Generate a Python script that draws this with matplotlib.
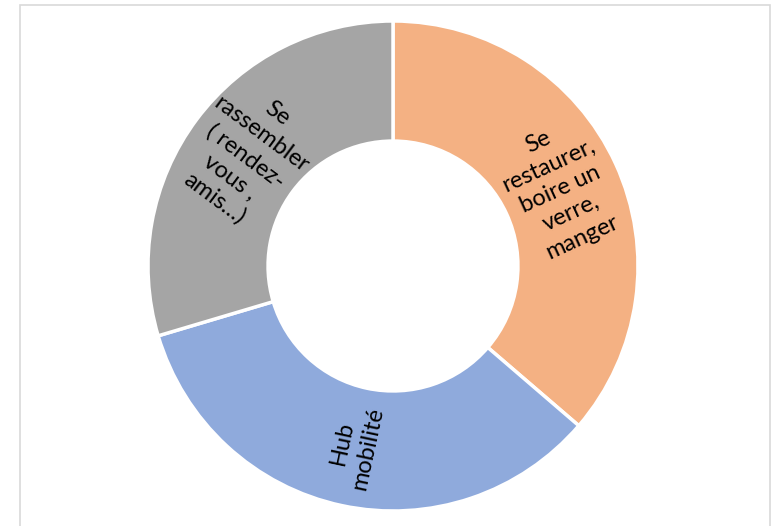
import numpy as np
import matplotlib.pyplot as plt
from matplotlib.patches import Rectangle

# Données
labels = ['Se\nrestaurer,\nboire un\nverre,\nmanger',
          'Hub\nmobilité',
          'Se\nrassembler\n( rendez-\nvous ,\namis…)']
valeurs = [36.3, 34.1, 29.6]
couleurs = ['#F4B183', '#8FAADC', '#A5A5A5']

plt.rcParams['font.family'] = ['Lato', 'DejaVu Sans']

fig = plt.figure(figsize=(7.73, 5.26), dpi=100)
ax = fig.add_axes([0, 0, 1, 1])

# Cadre du graphique
ax.add_patch(Rectangle((20, -10), 750, 531, fill=False, edgecolor='#D9D9D9', lw=1.2))

R = 245
centre = (393, 260)
wedges, _ = ax.pie(valeurs, colors=couleurs, startangle=90, counterclock=False,
                   radius=R, center=centre, frame=True,
                   wedgeprops=dict(width=0.49 * R, edgecolor='white', linewidth=2.5))
ax.set_xlim(0, 773)
ax.set_ylim(0, 526)
ax.set_aspect('equal')
ax.axis('off')

# Etiquettes orientées radialement
for w, lab in zip(wedges, labels):
    ang = (w.theta1 + w.theta2) / 2
    rot = ang
    if ang > 90:
        rot = ang - 180
    elif ang < -90:
        rot = ang + 180
    r = 0.75 * R
    x = centre[0] + r * np.cos(np.radians(ang))
    y = centre[1] + r * np.sin(np.radians(ang))
    ax.text(x, y, lab, ha='center', va='center', multialignment='center',
            rotation=rot, rotation_mode='anchor', fontsize=17, color='black',
            linespacing=1.3)

plt.savefig('out.png', dpi=100)
